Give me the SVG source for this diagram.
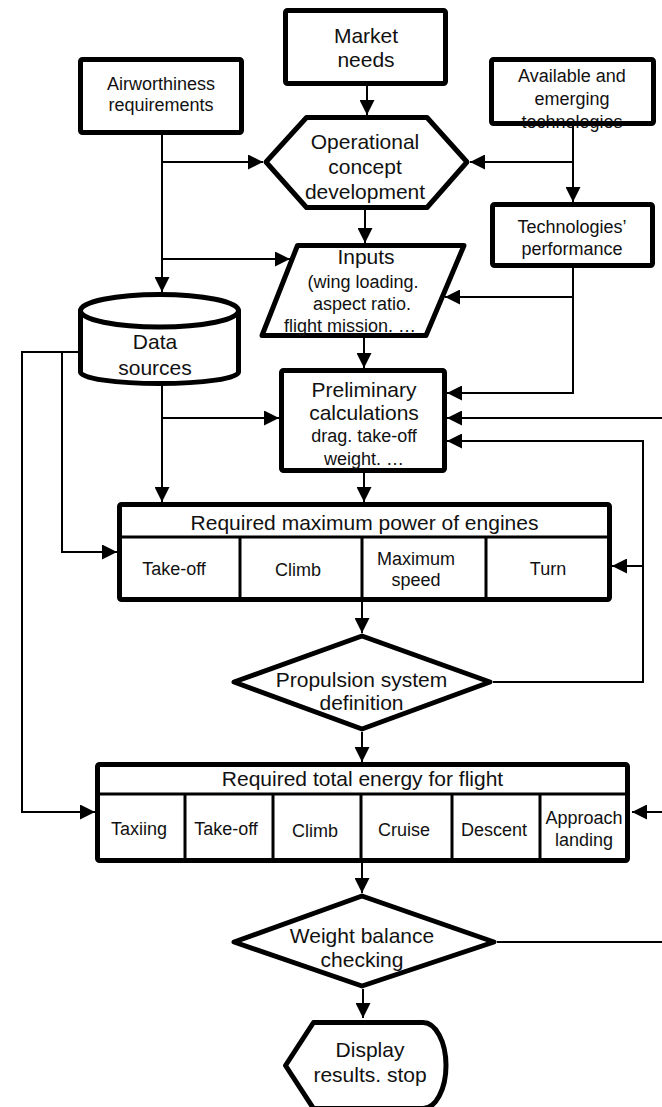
<svg xmlns="http://www.w3.org/2000/svg" width="662" height="1107" viewBox="0 0 662 1107">
<style>
.n{fill:#fff;stroke:#000;stroke-width:5;stroke-linejoin:round}
.b{fill:none;stroke:#000;stroke-width:5;stroke-linejoin:round}
.d{fill:none;stroke:#000;stroke-width:3}
.c{fill:none;stroke:#000;stroke-width:2}
text{font-family:"Liberation Sans",Arial,sans-serif;fill:#111;text-anchor:middle}
.L{font-size:21px}
.S{font-size:18px}
</style>
<defs>
<marker id="a" markerUnits="userSpaceOnUse" markerWidth="15" markerHeight="15" refX="15" refY="7.5" orient="auto">
<path d="M0,0 L15,7.5 L0,15 Z" fill="#000"/>
</marker>
</defs>
<rect width="662" height="1107" fill="#fff"/>
<g id="connectors" marker-end="url(#a)">
<path class="c" d="M367,86 L367,115"/>
<path class="c" d="M162,135 L162,292"/>
<path class="c" d="M162,162 L263,162"/>
<path class="c" d="M162,259 L290,259"/>
<path class="c" d="M573,126 L573,202"/>
<path class="c" d="M573,162 L470,162"/>
<path class="c" d="M365,210 L365,243"/>
<path class="c" d="M573,268 L573,393 L447,393"/>
<path class="c" d="M573,297 L445,297"/>
<path class="c" d="M364,338 L364,368"/>
<path class="c" d="M662,418 L447,418"/>
<path class="c" d="M493,682 L643,682 L643,441 L447,441"/>
<path class="c" d="M643,566 L612,566"/>
<path class="c" d="M162,386 L162,502"/>
<path class="c" d="M162,418 L279,418"/>
<path class="c" d="M78,352 L22,352 L22,812 L95,812"/>
<path class="c" d="M62,352 L62,552 L117,552"/>
<path class="c" d="M364,473 L364,502"/>
<path class="c" d="M362,602 L362,633"/>
<path class="c" d="M362,732 L362,762"/>
<path class="c" d="M662,812 L632,812"/>
<path class="c" d="M362,863 L362,893"/>
<path class="c" d="M497,942 L662,942" marker-end="none"/>
<path class="c" d="M363,989 L363,1018"/>
</g>
<g id="market">
<rect class="n" x="285.5" y="10.5" width="160" height="73" rx="2"/>
<text class="L" x="366" y="43">Market</text>
<text class="L" x="366" y="67">needs</text>
</g>
<g id="airworthiness">
<rect class="n" x="80.5" y="59.5" width="161" height="73" rx="2"/>
<text class="S" x="161" y="90">Airworthiness</text>
<text class="S" x="161" y="111">requirements</text>
</g>
<g id="available">
<rect x="491.5" y="59.5" width="162" height="64" fill="#fff"/>
<text class="S" x="572" y="82">Available and</text>
<text class="S" x="572" y="105">emerging</text>
<text class="S" x="572" y="128">technologies</text>
<rect class="b" x="491.5" y="59.5" width="162" height="64" rx="2"/>
</g>
<g id="operational">
<polygon class="n" points="266,162 306.5,117.5 427,117.5 467,162 427,207.5 306.5,207.5"/>
<text class="L" x="365" y="149">Operational</text>
<text class="L" x="365" y="174">concept</text>
<text class="L" x="365" y="199">development</text>
</g>
<g id="technologies">
<rect class="n" x="492.5" y="204.5" width="160" height="61" rx="2"/>
<text class="S" x="572" y="233">Technologies’</text>
<text class="S" x="572" y="255">performance</text>
</g>
<g id="inputs">
<polygon class="n" points="297.5,245.5 464,245.5 426,335.5 262,335.5"/>
<text class="L" x="366" y="264">Inputs</text>
<text class="S" x="363" y="288">(wing loading.</text>
<text class="S" x="362" y="310">aspect ratio.</text>
<text class="S" x="350" y="332">flight mission. …</text>
</g>
<g id="data-sources">
<path class="n" d="M80.5,310.75 A79,16.25 0 0 1 238.5,310.75 L238.5,372 A79,11.5 0 0 1 80.5,372 Z"/>
<path class="b" d="M80.5,310.75 A79,16.25 0 0 0 238.5,310.75"/>
<text class="L" x="155" y="349">Data</text>
<text class="L" x="155" y="375">sources</text>
</g>
<g id="preliminary">
<rect class="n" x="281.5" y="370.5" width="163" height="100" rx="2"/>
<text class="L" x="364" y="397">Preliminary</text>
<text class="L" x="364" y="420">calculations</text>
<text class="S" x="364" y="442">drag. take-off</text>
<text class="S" x="364" y="465">weight. …</text>
</g>
<g id="max-power">
<rect class="n" x="119.5" y="504.5" width="490" height="95" rx="2"/>
<path class="d" d="M119.5,537 L609.5,537 M240,537 L240,599.5 M362,537 L362,599.5 M486,537 L486,599.5"/>
<text class="L" x="364.5" y="530">Required maximum power of engines</text>
<text class="S" x="174" y="575">Take-off</text>
<text class="S" x="298" y="576">Climb</text>
<text class="S" x="416" y="565">Maximum</text>
<text class="S" x="416" y="586">speed</text>
<text class="S" x="548" y="575">Turn</text>
</g>
<g id="propulsion">
<polygon class="n" points="362,636 490,682 362,729 234,682"/>
<text class="L" x="361.5" y="687">Propulsion system</text>
<text class="L" x="361.5" y="710">definition</text>
</g>
<g id="energy">
<rect class="n" x="97.5" y="764.5" width="530" height="96" rx="2"/>
<path class="d" d="M97.5,794 L627.5,794 M185,794 L185,860.5 M273,794 L273,860.5 M361,794 L361,860.5 M452,794 L452,860.5 M540,794 L540,860.5"/>
<text class="L" x="362.5" y="786">Required total energy for flight</text>
<text class="S" x="139" y="835">Taxiing</text>
<text class="S" x="226" y="835">Take-off</text>
<text class="S" x="315" y="837">Climb</text>
<text class="S" x="404" y="836">Cruise</text>
<text class="S" x="494" y="836">Descent</text>
<text class="S" x="584" y="824">Approach</text>
<text class="S" x="584" y="846">landing</text>
</g>
<g id="weight-balance">
<polygon class="n" points="362,896 494,942 362,986 234,942"/>
<text class="L" x="362" y="943">Weight balance</text>
<text class="L" x="362" y="967">checking</text>
</g>
<g id="display">
<path class="n" d="M313.5,1022.5 L423,1022.5 A23,43 0 0 1 423,1108.5 L313.5,1108.5 L285.5,1065.5 Z"/>
<text class="L" x="370" y="1057">Display</text>
<text class="L" x="370" y="1082">results. stop</text>
</g>
</svg>
